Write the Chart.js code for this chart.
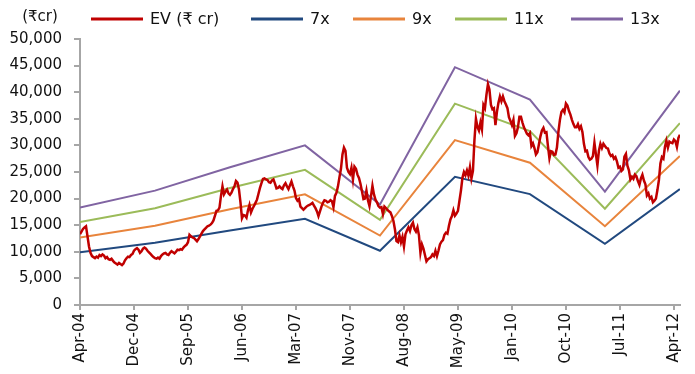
<!DOCTYPE html>
<html>
<head>
<meta charset="utf-8">
<script src="https://cdn.jsdelivr.net/npm/chart.js@4"></script>
<style>
  html, body { margin: 0; padding: 0; background: #ffffff; }
  canvas { display: block; }
</style>
</head>
<body>
<canvas id="evChart" width="695" height="374"></canvas>
<script>
const FONT = '"DejaVu Sans", "Noto Sans", sans-serif';
const TEXT_COLOR = '#111111';
const AXIS_COLOR = '#a6a6a6';

// x axis runs in trading sessions from Apr-04; a label every 180 sessions
const tickLabels = ['Apr-04', 'Dec-04', 'Sep-05', 'Jun-06', 'Mar-07', 'Nov-07',
                    'Aug-08', 'May-09', 'Jan-10', 'Oct-10', 'Jul-11', 'Apr-12'];
const TICK_STEP = 180;
const LAST_SESSION = 2000;

// enterprise value (Rs cr), one reading every 5 sessions
const EV_STEP = 5;
const evValues = [
  13300,13800,14300,14600,14800,12900,11000,9800,9200,9000,
  8800,9100,8900,9400,9200,9500,9300,8800,9000,8600,
  8500,8700,8300,8000,7800,7600,7900,7700,7500,7800,
  8400,8800,9100,9000,9400,9600,10200,10500,10700,10400,
  9800,10100,10600,10800,10600,10200,9900,9600,9300,9000,
  8800,8700,8900,8700,9200,9500,9700,9800,9500,9400,
  9800,10100,9900,9700,10000,10400,10300,10500,10400,10800,
  11100,11300,11800,13200,12900,12700,12600,12300,12000,12400,
  12900,13400,13900,14200,14500,14800,14900,15100,15400,15900,
  16800,17700,17800,18300,20500,22300,20800,21300,21700,21000,
  20700,21100,21800,22300,23300,23000,21700,19300,16300,16900,
  16800,16400,17800,18800,17400,18100,18600,19200,19800,20900,
  22000,22900,23700,23800,23600,23500,23100,23000,23400,23600,
  22800,21900,22000,22300,
  22000,21800,22500,22900,22300,21800,22500,23200,22300,21500,
  20100,19600,19900,18500,18200,17900,18200,18500,18700,18800,
  19000,19200,18700,18200,17600,16700,17600,18500,19200,19700,
  19600,19300,19400,19700,19500,18400,20500,21100,22300,24000,
  25600,28300,29600,29000,25800,25000,24600,25800,23600,26000,
  25600,24500,23900,22800,21400,19900,20000,21500,19700,18600,
  20400,22400,20800,19800,19300,18600,18300,18400,17100,18500,
  18200,17900,17600,17400,16700,15800,14200,12000,11800,13100,
  11800,12800,11000,13300,14000,14600,13900,15000,15500,14300,
  13800,14600,13100,9800,11400,10600,9400,8200,8600,8800,
  9000,9500,9200,10200,9200,10200,11400,11900,12200,13200,
  13600,13400,14900,16100,16700,17800,16800,17200,17700,19600,
  21500,23900,25000,24400,25300,24300,25900,23800,25200,31000,
  35000,33500,32800,34300,33000,
  37600,37000,39500,41500,40500,37600,36800,37000,33800,36300,
  38000,39200,38300,39200,38300,37700,37000,35300,34600,33800,
  34800,31800,32300,33400,35400,35400,34300,33400,32800,32200,
  31900,32300,29900,30400,29500,28300,28700,30200,31700,32800,
  33300,32400,32500,29900,27600,28900,28800,28200,28300,29600,
  32600,34800,36300,36700,36200,37900,37500,36500,35800,34800,
  34000,33400,33400,34000,33100,33600,32500,30300,28900,29000,
  27800,27300,27500,28000,30500,28300,26200,29000,30300,29500,
  30300,29900,29500,29400,28500,28000,28200,27500,27800,27000,
  25800,26000,25200,25500,27900,28400,26200,25300,23600,24100,
  23700,24500,24200,23300,22600,23800,24500,23400,22700,20600,
  21000,20000,20300,19300,19600,20000,21600,23500,26600,27800,
  27500,29700,30900,29600,30700,30500,30400,31100,30800,29700,
  31400,32000
];

// EV/EBITDA band lines, anchored at year ends (sessions from Apr-04)
const bandDays = [0, 250, 500, 750, 1000, 1250, 1500, 1750, 2000];
const band7x  = [9900, 11700, 14000, 16200, 10200, 24100, 20850, 11500, 21800];
const band9x  = [12700, 14900, 18000, 20800, 13050, 31000, 26750, 14800, 28000];
const band11x = [15600, 18200, 22000, 25400, 16000, 37850, 32700, 18100, 34200];
const band13x = [18300, 21500, 25900, 30000, 18900, 44700, 38600, 21300, 40300];

const seriesNames = ['EV (\u20b9 cr)', '7x', '9x', '11x', '13x'];
const seriesColors = ['#c00000', '#21497f', '#e8843c', '#9bbb59', '#8064a2'];
const unitLabel = '(\u20b9cr)';

const evPoints = evValues.map((v, i) => ({ x: i * EV_STEP, y: v }));
const bandPoints = vals => bandDays.map((d, k) => ({ x: d, y: vals[k] }));

function lineSet(k, data, width) {
  return {
    label: seriesNames[k],
    data: data,
    borderColor: seriesColors[k],
    backgroundColor: seriesColors[k],
    borderWidth: width,
    pointRadius: 0,
    tension: 0,
    fill: false
  };
}

// legend row and unit caption drawn across the top
const LEGEND_X = [91, 251, 353, 455, 571];
const topLegend = {
  id: 'topLegend',
  afterDraw(chart) {
    const ctx = chart.ctx;
    ctx.save();
    ctx.font = '16px ' + FONT;
    ctx.textBaseline = 'middle';
    ctx.textAlign = 'left';
    const y = 19;
    chart.data.datasets.forEach((ds, k) => {
      const x = LEGEND_X[k];
      ctx.strokeStyle = ds.borderColor;
      ctx.lineWidth = 3;
      ctx.beginPath();
      ctx.moveTo(x, y);
      ctx.lineTo(x + 52, y);
      ctx.stroke();
      ctx.fillStyle = TEXT_COLOR;
      ctx.fillText(ds.label, x + 59, y + 1);
    });
    ctx.font = '15px ' + FONT;
    ctx.textAlign = 'center';
    ctx.fillStyle = TEXT_COLOR;
    ctx.fillText(unitLabel, 40, 17);
    ctx.restore();
  }
};

new Chart(document.getElementById('evChart'), {
  type: 'line',
  data: {
    datasets: [
      lineSet(0, evPoints, 2.5),
      lineSet(1, bandPoints(band7x), 2),
      lineSet(2, bandPoints(band9x), 2),
      lineSet(3, bandPoints(band11x), 2),
      lineSet(4, bandPoints(band13x), 2)
    ]
  },
  options: {
    responsive: false,
    animation: false,
    layout: { padding: { top: 39, right: 9, left: 0, bottom: 0 } },
    plugins: {
      legend: { display: false },
      tooltip: { enabled: false }
    },
    scales: {
      x: {
        type: 'linear',
        min: 0,
        max: LAST_SESSION,
        afterBuildTicks(scale) {
          scale.ticks = tickLabels.map((_, k) => ({ value: k * TICK_STEP }));
        },
        afterFit(scale) { scale.height = 69; },
        ticks: {
          autoSkip: false,
          minRotation: 90,
          maxRotation: 90,
          padding: 3,
          color: TEXT_COLOR,
          font: { family: FONT, size: 15 },
          callback: v => tickLabels[Math.round(v / TICK_STEP)] || ''
        },
        grid: {
          display: true,
          drawOnChartArea: false,
          drawTicks: true,
          tickLength: 5,
          color: AXIS_COLOR,
          lineWidth: 2
        },
        border: { display: true, color: AXIS_COLOR, width: 2 }
      },
      y: {
        min: 0,
        max: 50000,
        afterFit(scale) { scale.width = 80; },
        ticks: {
          stepSize: 5000,
          padding: 12,
          color: TEXT_COLOR,
          font: { family: FONT, size: 15 },
          callback: v => v.toLocaleString('en-US')
        },
        grid: {
          display: true,
          drawOnChartArea: false,
          drawTicks: true,
          tickLength: 6,
          color: AXIS_COLOR,
          lineWidth: 2
        },
        border: { display: true, color: AXIS_COLOR, width: 2 }
      }
    }
  },
  plugins: [topLegend]
});
</script>
</body>
</html>
